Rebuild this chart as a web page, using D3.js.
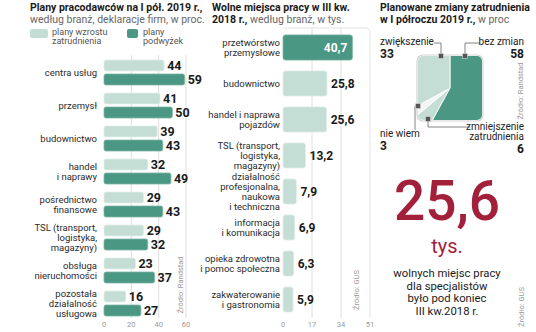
<!DOCTYPE html>
<html>
<head>
<meta charset="utf-8">
<script src="https://cdn.jsdelivr.net/npm/d3@7"></script>
<style>
  body { margin: 0; background: #fff; }
  svg { display: block; font-family: Roboto, "Noto Sans", sans-serif; }
</style>
</head>
<body>
<svg id="chart" width="536" height="332"></svg>
<script>
// --- Plany pracodawców na I pół. 2019 r. (w proc.) ---
const planCategories = [
  "centra usług", "przemysł", "budownictwo", "handel\ni naprawy",
  "pośrednictwo\nfinansowe", "TSL (transport,\nlogistyka,\nmagazyny)",
  "obsługa\nnieruchomości", "pozostała\ndziałalność\nusługowa"
];
const planHiring = [44, 41, 39, 32, 29, 29, 23, 16];   // plany wzrostu zatrudnienia
const planRaises = [59, 50, 43, 49, 43, 32, 37, 27];   // plany podwyżek
const planTicks = [0, 20, 40, 60];

// --- Wolne miejsca pracy w III kw. 2018 r. (tys.) ---
const vacancyCategories = [
  "przetwórstwo\nprzemysłowe", "budownictwo", "handel i naprawa\npojazdów",
  "TSL (transport,\nlogistyka,\nmagazyny)",
  "działalność\nprofesjonalna,\nnaukowa\ni techniczna",
  "informacja\ni komunikacja", "opieka zdrowotna\ni pomoc społeczna",
  "zakwaterowanie\ni gastronomia"
];
const vacancyValues = [40.7, 25.8, 25.6, 13.2, 7.9, 6.9, 6.3, 5.9];
const vacancyTicks = [0, 17, 34, 51];

// --- Planowane zmiany zatrudnienia w I półroczu 2019 r. (w proc.) ---
const changeLabels = ["bez zmian", "zmniejszenie\nzatrudnienia", "nie wiem", "zwiększenie"];
const changeValues = [58, 6, 3, 33];

// --- Wolne miejsca dla specjalistów ---
const specialistsValue = 25.6;
const specialistsText = ["wolnych miejsc pracy", "dla specjalistów", "było pod koniec", "III kw.2018 r."];

const DARK = "#4a9884", LIGHT = "#c4ded6", CRIMSON = "#a3203b";
const fmt = v => String(v).replace(".", ",");

const svg = d3.select("#chart");

function multiline(g, text, x, yc, lh, opts = {}) {
  const lines = text.split("\n");
  const t = g.append("text")
    .attr("x", x)
    .attr("text-anchor", opts.anchor || "end")
    .attr("font-size", opts.size || 9.5)
    .attr("fill", opts.fill || "#333");
  lines.forEach((l, i) => {
    t.append("tspan")
      .attr("x", x)
      .attr("y", yc + (i - (lines.length - 1) / 2) * lh + (opts.shift ?? 3.4))
      .text(l);
  });
  return t;
}

function title(g, x, y, lines) {
  lines.forEach((parts, i) => {
    const t = g.append("text").attr("x", x).attr("y", y + i * 11.5).attr("font-size", 10.5).attr("fill", "#1a1a1a");
    parts.forEach(([s, bold]) => {
      t.append("tspan").attr("font-weight", bold ? 700 : 400).attr("fill", bold ? "#1a1a1a" : "#666").text(s);
    });
  });
}

function source(g, x, y, s) {
  g.append("text")
    .attr("transform", `translate(${x},${y}) rotate(-90)`)
    .attr("text-anchor", "middle")
    .attr("font-size", 7.5)
    .attr("fill", "#9a9a9a")
    .text(s);
}

// ================= Panel 1: plany pracodawców =================
{
  const g = svg.append("g");
  title(g, 30, 11, [
    [["Plany pracodawców na I pół. 2019 r.,", true]],
    [["według branż, deklaracje firm, w proc.", false]]
  ]);

  // legend
  const lg = g.append("g");
  lg.append("rect").attr("x", 30).attr("y", 29).attr("width", 18).attr("height", 9).attr("rx", 2).attr("fill", LIGHT);
  multiline(lg, "plany wzrostu\nzatrudnienia", 52, 36, 9, { anchor: "start", fill: "#555", size: 9, shift: 3 });
  lg.append("rect").attr("x", 127).attr("y", 29).attr("width", 11).attr("height", 9).attr("rx", 2).attr("fill", DARK);
  multiline(lg, "plany\npodwyżek", 143, 36, 9, { anchor: "start", fill: "#555", size: 9, shift: 3 });

  const x = d3.scaleLinear().domain([0, 60]).range([104, 186]);
  const y = d3.scaleBand().domain(planCategories).range([60, 324]);
  const sub = d3.scaleBand().domain(["hiring", "raises"]).range([0, 25]).paddingInner(0.214);

  // gridlines
  g.selectAll(".grid").data(planTicks.slice(1)).join("line")
    .attr("x1", d => x(d)).attr("x2", d => x(d))
    .attr("y1", 55).attr("y2", 318)
    .attr("stroke", "#dedede").attr("stroke-width", 1);

  const rows = planCategories.map((c, i) => ({ c, hiring: planHiring[i], raises: planRaises[i] }));
  const row = g.selectAll(".row").data(rows).join("g")
    .attr("transform", d => `translate(0,${y(d.c)})`);

  ["hiring", "raises"].forEach(k => {
    row.append("rect")
      .attr("x", x(0)).attr("y", sub(k))
      .attr("width", d => x(d[k]) - x(0)).attr("height", sub.bandwidth())
      .attr("rx", 2)
      .attr("fill", k === "hiring" ? LIGHT : DARK)
      .attr("stroke", k === "hiring" ? "#e3efeb" : "#7fb5a6").attr("stroke-width", 0.8);
    row.append("text")
      .attr("x", d => x(d[k]) + 3)
      .attr("y", sub(k) + sub.bandwidth() / 2 + 4.5)
      .attr("font-size", 12.5).attr("font-weight", 700).attr("fill", "#1a1a1a")
      .text(d => d[k]);
  });

  row.each(function (d) {
    multiline(d3.select(this), d.c, 97, 12.5, 10, { size: 9.5, fill: "#2a2a2a" });
  });

  // axis labels
  g.selectAll(".tick").data(planTicks).join("text")
    .attr("x", d => x(d)).attr("y", 327)
    .attr("text-anchor", "middle").attr("font-size", 7.5).attr("fill", "#999")
    .text(d => d);

  source(g, 183, 285, "Źródło: Randstad");
}

// ================= Panel 2: wolne miejsca pracy =================
{
  const g = svg.append("g");
  title(g, 212, 11, [
    [["Wolne miejsca pracy w III kw.", true]],
    [["2018 r.,", true], [" według branż, w tys.", false]]
  ]);

  const x = d3.scaleLinear().domain([0, 51]).range([283, 370]);
  const y = d3.scaleBand().domain(vacancyCategories).range([29.5, 317.5]).paddingInner(0.3).paddingOuter(0.15);

  // panel frame and gridlines
  const top = 28, bottom = 318, r = 5;
  g.append("path")
    .attr("d", `M${x(0)},${top}H${x(51) - r}Q${x(51)},${top} ${x(51)},${top + r}V${bottom}`)
    .attr("fill", "none").attr("stroke", "#e2e2e2");
  g.selectAll(".grid").data(vacancyTicks.slice(1, -1)).join("line")
    .attr("x1", d => x(d)).attr("x2", d => x(d))
    .attr("y1", top).attr("y2", bottom)
    .attr("stroke", "#dedede");

  const rows = vacancyCategories.map((c, i) => ({ c, v: vacancyValues[i], i }));
  const row = g.selectAll(".row").data(rows).join("g")
    .attr("transform", d => `translate(0,${y(d.c)})`);

  row.append("rect")
    .attr("x", x(0)).attr("y", 0)
    .attr("width", d => x(d.v) - x(0)).attr("height", y.bandwidth())
    .attr("rx", 2.5)
    .attr("fill", d => d.i === 0 ? DARK : LIGHT)
    .attr("stroke", d => d.i === 0 ? "#7fb5a6" : "#e3efeb").attr("stroke-width", 0.8);

  row.append("text")
    .attr("x", d => d.i === 0 ? x(d.v) - 5 : x(d.v) + 4)
    .attr("y", y.bandwidth() / 2 + 4.3)
    .attr("text-anchor", d => d.i === 0 ? "end" : "start")
    .attr("font-size", 12).attr("font-weight", 700)
    .attr("fill", d => d.i === 0 ? "#fff" : "#1a1a1a")
    .text(d => fmt(d.v));

  row.each(function (d) {
    multiline(d3.select(this), d.c, 280, y.bandwidth() / 2, 10, { size: 9.5, fill: "#2a2a2a" });
  });

  g.selectAll(".tick").data(vacancyTicks).join("text")
    .attr("x", d => x(d)).attr("y", 327)
    .attr("text-anchor", "middle").attr("font-size", 7.5).attr("fill", "#999")
    .text(d => d);

  source(g, 359, 290, "Źródło: GUS");
}

// ================= Panel 3: planowane zmiany zatrudnienia =================
{
  const g = svg.append("g");
  title(g, 380, 11, [
    [["Planowane zmiany zatrudnienia", true]],
    [["w I półroczu 2019 r.,", true], [" w proc", false]]
  ]);

  const box = { x: 418, y: 56, w: 64, h: 64, r: 5 };
  const cx = 450, cy = 88;
  g.append("clipPath").attr("id", "sq")
    .append("rect").attr("x", box.x).attr("y", box.y).attr("width", box.w).attr("height", box.h).attr("rx", box.r);

  const pie = d3.pie().sort(null).value(d => d.v);
  const arc = d3.arc().innerRadius(0).outerRadius(60);
  const fills = [DARK, LIGHT, "#f3f5f4", LIGHT];
  const slices = pie(changeLabels.map((l, i) => ({ l, v: changeValues[i] })));

  g.append("g").attr("clip-path", "url(#sq)")
    .append("g").attr("transform", `translate(${cx},${cy})`)
    .selectAll("path").data(slices).join("path")
    .attr("d", arc)
    .attr("fill", (d, i) => fills[i])
    .attr("stroke", "#fff").attr("stroke-width", 0.8);

  g.append("rect").attr("x", box.x - 1).attr("y", box.y - 1).attr("width", box.w + 2).attr("height", box.h + 2)
    .attr("rx", box.r + 1).attr("fill", "none").attr("stroke", "#d4d4d4").attr("stroke-width", 1.2);

  // callouts: marker, leader polyline, label anchor
  const callouts = [
    { i: 3, m: [441, 56], path: [[441, 56], [441, 43], [434, 43]], tx: 380, anchor: "start", ly: 45 },
    { i: 0, m: [465, 56], path: [[465, 56], [465, 43], [480, 43]], tx: 524, anchor: "end", ly: 45 },
    { i: 2, m: [418, 106], path: [[418, 106], [415, 106], [415, 130]], tx: 380, anchor: "start", ly: 137 },
    { i: 1, m: [428, 119], path: [[428, 119], [428, 127], [470, 127]], tx: 524, anchor: "end", ly: 130 }
  ];
  const line = d3.line();
  callouts.forEach(c => {
    g.append("path").attr("d", line(c.path)).attr("fill", "none").attr("stroke", "#777").attr("stroke-width", 0.9);
    g.append("rect").attr("x", c.m[0] - 2.5).attr("y", c.m[1] - 2.5).attr("width", 5).attr("height", 5)
      .attr("fill", "#555").attr("stroke", "#ddd").attr("stroke-width", 0.6);
    const lines = changeLabels[c.i].split("\n");
    const t = g.append("text").attr("text-anchor", c.anchor).attr("font-size", 10).attr("fill", "#222");
    lines.forEach((l, k) => t.append("tspan").attr("x", c.tx).attr("y", c.ly + k * 10).text(l));
    g.append("text").attr("x", c.tx).attr("y", c.ly + (lines.length - 1) * 10 + 13)
      .attr("text-anchor", c.anchor).attr("font-size", 12).attr("font-weight", 700).attr("fill", "#1a1a1a")
      .text(changeValues[c.i]);
  });

  source(g, 523, 91, "Źródło: Randstad");
}

// ================= Panel 4: specjaliści =================
{
  const g = svg.append("g");
  g.append("text").attr("x", 447).attr("y", 220).attr("text-anchor", "middle")
    .attr("font-size", 55).attr("font-weight", 500).attr("fill", CRIMSON)
    .text(fmt(specialistsValue));
  g.append("text").attr("x", 447).attr("y", 253).attr("text-anchor", "middle")
    .attr("font-size", 20).attr("fill", CRIMSON).text("tys.");
  specialistsText.forEach((s, i) => {
    g.append("text").attr("x", 447).attr("y", 277 + i * 12.7).attr("text-anchor", "middle")
      .attr("font-size", 11.3).attr("fill", "#1a1a1a").text(s);
  });
  source(g, 524, 307, "Źródło: GUS");
}
</script>
</body>
</html>
